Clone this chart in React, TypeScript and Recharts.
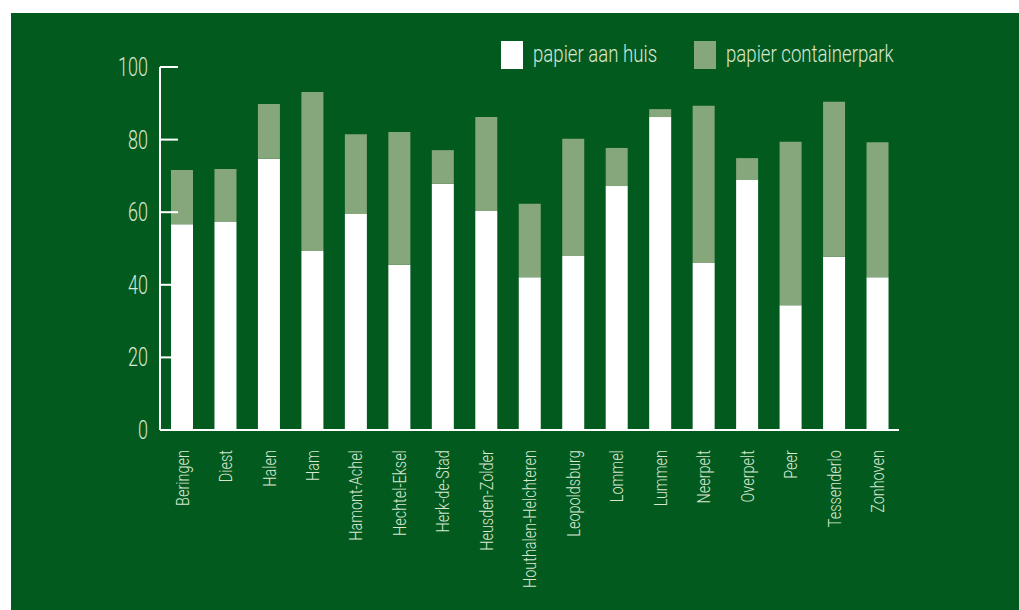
import { BarChart, Bar, XAxis, YAxis, Legend } from 'recharts';

const gemeenten = [
  'Beringen', 'Diest', 'Halen', 'Ham', 'Hamont-Achel', 'Hechtel-Eksel', 'Herk-de-Stad',
  'Heusden-Zolder', 'Houthalen-Helchteren', 'Leopoldsburg', 'Lommel', 'Lummen',
  'Neerpelt', 'Overpelt', 'Peer', 'Tessenderlo', 'Zonhoven',
];
const aanHuis = [56.7, 57.3, 74.7, 49.3, 59.5, 45.5, 67.8, 60.3, 42.1, 47.9, 67.2, 86.2, 46.0, 69.0, 34.4, 47.7, 42.1];
const containerpark = [14.9, 14.6, 15.1, 43.8, 22.0, 36.6, 9.3, 25.9, 20.2, 32.3, 10.5, 2.2, 43.3, 5.9, 45.0, 42.7, 37.2];
const yTicks = [0, 20, 40, 60, 80, 100];

const BG = '#035a1f';
const LIGHT = '#86a67b';
const TEXT = '#d8e7d2';
const FONT = 'Roboto, "Noto Sans", sans-serif';
const AXIS_X = 160;

const data = gemeenten.map((name, i) => ({
  name,
  aanHuis: aanHuis[i],
  containerpark: containerpark[i],
}));

// the original uses a light condensed face; squeeze Roboto Light horizontally
const YTick = ({ y, payload }: any) => (
  <g>
    <line x1={AXIS_X} x2={AXIS_X + 18} y1={y} y2={y} stroke="#fff" strokeWidth={2} />
    <g transform={`translate(${AXIS_X - 12},${y}) scale(0.72,1)`}>
      <text x={0} y={0} dy={9} textAnchor="end" fill={TEXT} fontSize={25} fontFamily={FONT} fontWeight={300}>
        {payload.value}
      </text>
    </g>
  </g>
);

const XTick = ({ x, y, payload }: any) => (
  <g transform={`translate(${x},${y}) rotate(-90) scale(0.76,1)`}>
    <text x={-16} dy="0.36em" textAnchor="end" fill={TEXT} fontSize={19} fontFamily={FONT} fontWeight={300}>
      {payload.value}
    </text>
  </g>
);

const LegendContent = ({ payload }: any) => (
  <div style={{ display: 'flex', fontFamily: FONT, fontWeight: 300, fontSize: 23, color: TEXT, lineHeight: '28px' }}>
    {(payload ?? []).map((p: any, i: number) => (
      <div key={p.value} style={{ display: 'flex', alignItems: 'center', width: i === 0 ? 193 : 220 }}>
        <span style={{ width: 22, height: 28, background: p.color, display: 'inline-block', flex: 'none' }} />
        <span style={{ marginLeft: 10, transform: 'scaleX(0.81)', transformOrigin: 'left center', whiteSpace: 'nowrap' }}>
          {p.value}
        </span>
      </div>
    ))}
  </div>
);

export default function App() {
  return (
    <div style={{ position: 'absolute', left: 0, top: 0, width: 1019, height: 610, background: '#fff' }}>
      <div style={{ position: 'absolute', left: 11, top: 13, right: 0, bottom: 0, background: BG }} />
      <div style={{ position: 'absolute', left: 0, top: 0 }}>
        <BarChart
          width={1019}
          height={610}
          data={data}
          margin={{ top: 39, right: 120, left: 100, bottom: 10 }}
          barSize={22}
        >
          <XAxis
            dataKey="name"
            interval={0}
            height={170}
            tick={<XTick />}
            tickLine={false}
            axisLine={{ stroke: '#fff', strokeWidth: 2 }}
          />
          <YAxis
            domain={[0, 100]}
            ticks={yTicks}
            width={60}
            tick={<YTick />}
            tickLine={false}
            axisLine={{ stroke: '#fff', strokeWidth: 2 }}
          />
          <Legend
            verticalAlign="top"
            content={<LegendContent />}
            wrapperStyle={{ position: 'absolute', top: 41, left: 501, width: 'auto' }}
          />
          <Bar dataKey="aanHuis" name="papier aan huis" stackId="a" fill="#ffffff" isAnimationActive={false} />
          <Bar dataKey="containerpark" name="papier containerpark" stackId="a" fill={LIGHT} isAnimationActive={false} />
        </BarChart>
      </div>
    </div>
  );
}
